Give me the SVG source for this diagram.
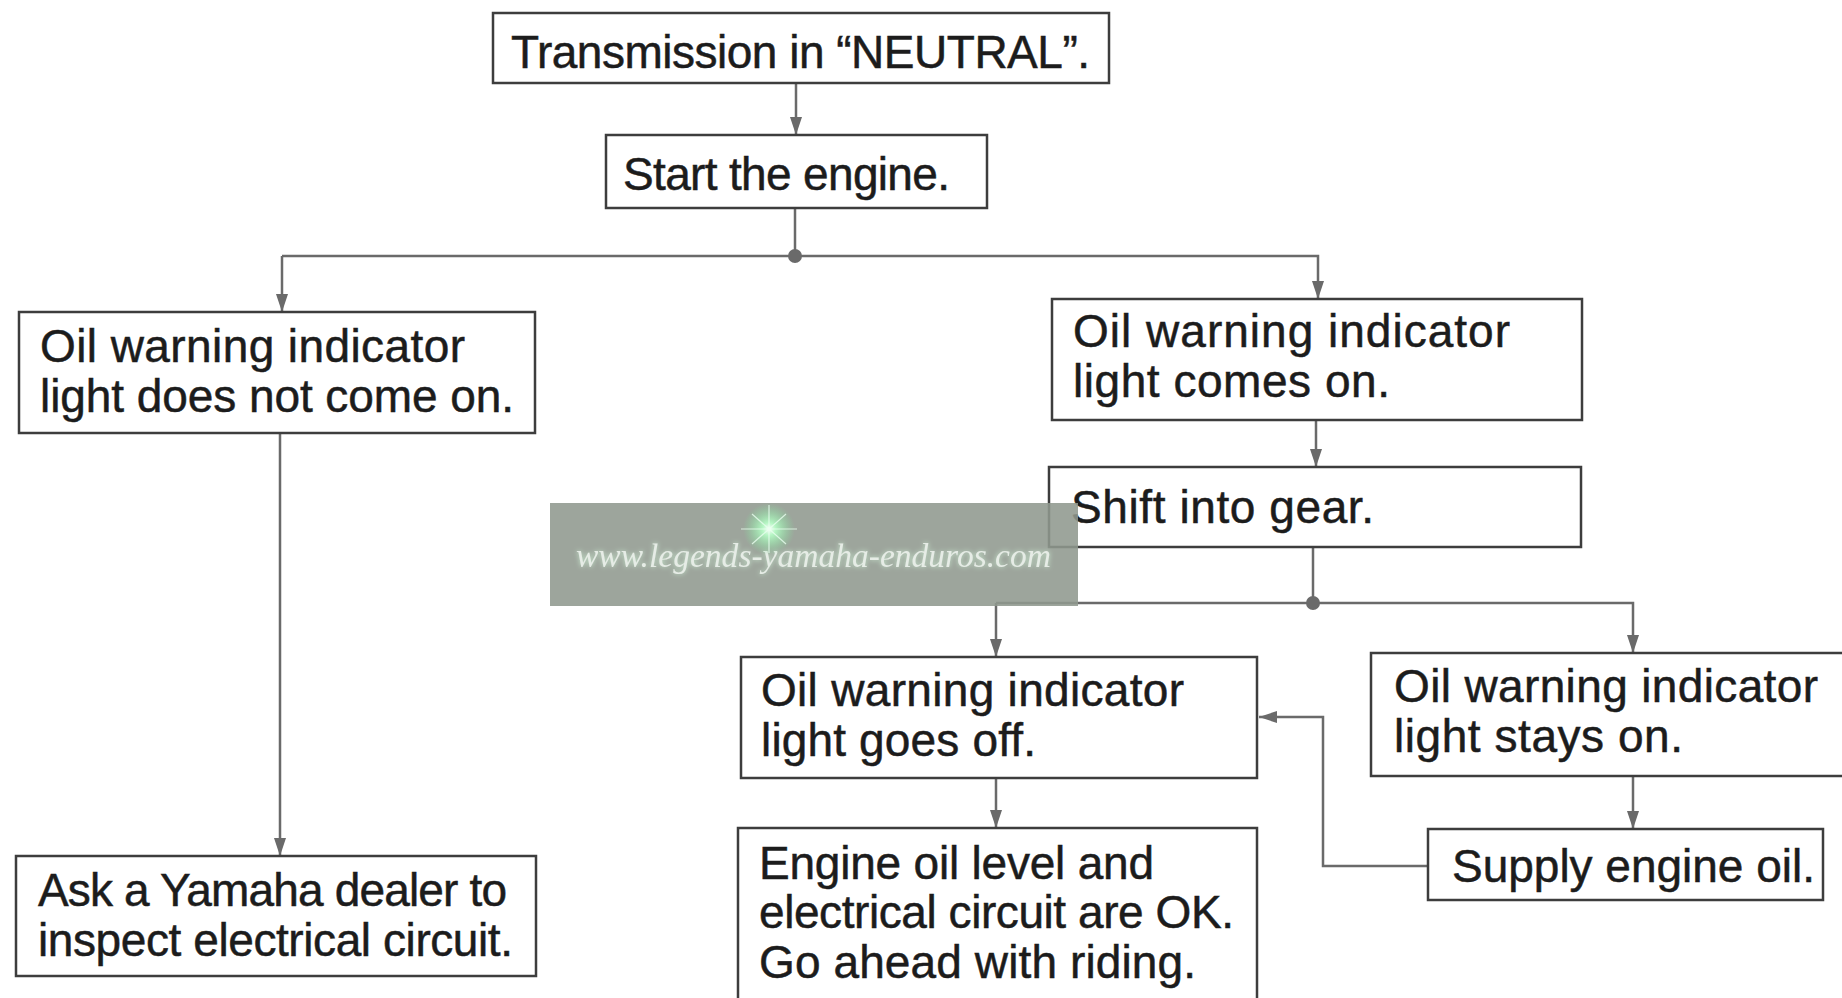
<svg xmlns="http://www.w3.org/2000/svg" width="1842" height="998" viewBox="0 0 1842 998">
<style>
.box{fill:#ffffff;stroke:#3d3d3d;stroke-width:2.5}
.t{font-family:"Liberation Sans",Arial,sans-serif;font-size:46px;fill:#1c1c1c;stroke:#1c1c1c;stroke-width:0.5}
.c{stroke:#6a6a6a;stroke-width:2.5;fill:none}
.dot{fill:#6a6a6a}
.wm{font-family:"Liberation Serif","DejaVu Serif",serif;font-style:italic;font-size:34px;fill:#e6ece6}
</style>
<defs>
<marker id="ah" viewBox="0 0 18 12" refX="18" refY="6" markerWidth="18" markerHeight="12" markerUnits="userSpaceOnUse" orient="auto">
<path d="M0,0 L18,6 L0,12 z" fill="#6a6a6a"/>
</marker>
<radialGradient id="glow">
<stop offset="0" stop-color="#ffffff" stop-opacity="1"/>
<stop offset="0.25" stop-color="#b8ffc8" stop-opacity="0.9"/>
<stop offset="1" stop-color="#7fe89a" stop-opacity="0"/>
</radialGradient>
<filter id="soft" x="-10%" y="-50%" width="120%" height="200%">
<feGaussianBlur in="SourceAlpha" stdDeviation="2.5" result="b"/>
<feFlood flood-color="#d8ffe0" flood-opacity="0.8"/>
<feComposite in2="b" operator="in" result="g"/>
<feMerge><feMergeNode in="g"/><feMergeNode in="SourceGraphic"/></feMerge>
</filter>
</defs>
<rect width="1842" height="998" fill="#ffffff"/>

<g id="connectors">
<line class="c" x1="796" y1="83" x2="796" y2="135" marker-end="url(#ah)"/>
<line class="c" x1="795" y1="208" x2="795" y2="256"/>
<polyline class="c" points="282,256 1318,256 1318,299" marker-end="url(#ah)"/>
<line class="c" x1="282" y1="256" x2="282" y2="312" marker-end="url(#ah)"/>
<circle class="dot" cx="795" cy="256" r="7"/>
<line class="c" x1="1316" y1="420" x2="1316" y2="467" marker-end="url(#ah)"/>
<line class="c" x1="1313" y1="547" x2="1313" y2="603"/>
<polyline class="c" points="996,603 1633,603 1633,653" marker-end="url(#ah)"/>
<line class="c" x1="996" y1="603" x2="996" y2="657" marker-end="url(#ah)"/>
<circle class="dot" cx="1313" cy="603" r="7"/>
<line class="c" x1="1633" y1="776" x2="1633" y2="829" marker-end="url(#ah)"/>
<polyline class="c" points="1428,866 1323,866 1323,717 1259,717" marker-end="url(#ah)"/>
<line class="c" x1="996" y1="778" x2="996" y2="828" marker-end="url(#ah)"/>
<line class="c" x1="280" y1="433" x2="280" y2="856" marker-end="url(#ah)"/>
</g>

<g id="n-neutral">
<rect class="box" x="493" y="13" width="616" height="70"/>
<text class="t" x="511" y="68" textLength="579" lengthAdjust="spacing">Transmission in “NEUTRAL”.</text>
</g>
<g id="n-start">
<rect class="box" x="606" y="135" width="381" height="73"/>
<text class="t" x="623" y="190" textLength="327" lengthAdjust="spacing">Start the engine.</text>
</g>
<g id="n-not-on">
<rect class="box" x="19" y="312" width="516" height="121"/>
<text class="t" x="40" y="362" textLength="425" lengthAdjust="spacing">Oil warning indicator</text>
<text class="t" x="40" y="412" textLength="474" lengthAdjust="spacing">light does not come on.</text>
</g>
<g id="n-comes-on">
<rect class="box" x="1052" y="299" width="530" height="121"/>
<text class="t" x="1073" y="347" textLength="437" lengthAdjust="spacing">Oil warning indicator</text>
<text class="t" x="1073" y="397" textLength="317" lengthAdjust="spacing">light comes on.</text>
</g>
<g id="n-shift">
<rect class="box" x="1049" y="467" width="532" height="80"/>
<text class="t" x="1071" y="523" textLength="303" lengthAdjust="spacing">Shift into gear.</text>
</g>
<g id="n-goes-off">
<rect class="box" x="741" y="657" width="516" height="121"/>
<text class="t" x="761" y="706" textLength="423" lengthAdjust="spacing">Oil warning indicator</text>
<text class="t" x="761" y="756" textLength="275" lengthAdjust="spacing">light goes off.</text>
</g>
<g id="n-stays-on">
<rect class="box" x="1371" y="653" width="480" height="123"/>
<text class="t" x="1394" y="702" textLength="424" lengthAdjust="spacing">Oil warning indicator</text>
<text class="t" x="1394" y="752" textLength="289" lengthAdjust="spacing">light stays on.</text>
</g>
<g id="n-supply">
<rect class="box" x="1428" y="829" width="395" height="71"/>
<text class="t" x="1452" y="882" textLength="363" lengthAdjust="spacing">Supply engine oil.</text>
</g>
<g id="n-ok">
<rect class="box" x="738" y="828" width="519" height="180"/>
<text class="t" x="759" y="879" textLength="395" lengthAdjust="spacing">Engine oil level and</text>
<text class="t" x="759" y="928" textLength="475" lengthAdjust="spacing">electrical circuit are OK.</text>
<text class="t" x="759" y="978" textLength="437" lengthAdjust="spacing">Go ahead with riding.</text>
</g>
<g id="n-dealer">
<rect class="box" x="16" y="856" width="520" height="120"/>
<text class="t" x="38" y="906" textLength="469" lengthAdjust="spacing">Ask a Yamaha dealer to</text>
<text class="t" x="38" y="956" textLength="475" lengthAdjust="spacing">inspect electrical circuit.</text>
</g>

<g id="watermark">
<rect x="550" y="503" width="528" height="103" fill="#8f988e" opacity="0.88"/>
<text class="wm" x="576" y="567" textLength="475" lengthAdjust="spacingAndGlyphs" filter="url(#soft)">www.legends-yamaha-enduros.com</text>
<circle cx="769" cy="529" r="26" fill="url(#glow)"/>
<path d="M741,529 H797 M769,505 V553 M752,514 L786,544 M752,544 L786,514" stroke="#eafff0" stroke-width="1.2" opacity="0.8"/>
</g>
</svg>
